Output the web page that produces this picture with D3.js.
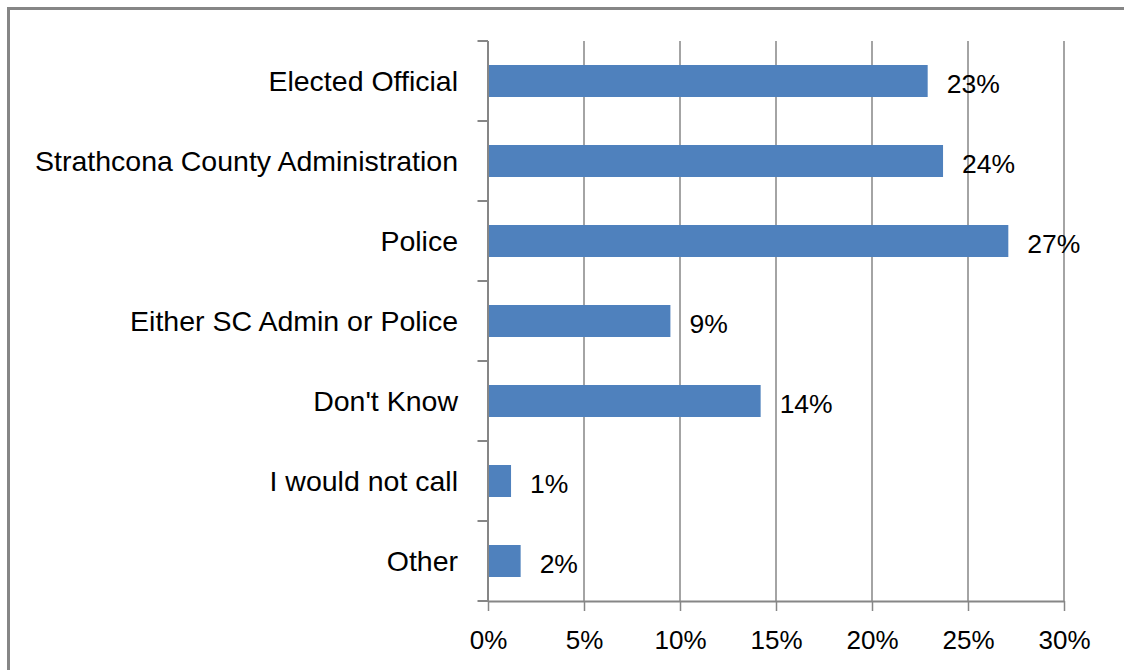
<!DOCTYPE html>
<html>
<head>
<meta charset="utf-8">
<script src="https://cdn.jsdelivr.net/npm/d3@7"></script>
<style>
  html, body { margin: 0; padding: 0; background: #fff; }
  svg { display: block; }
</style>
</head>
<body>
<svg id="chart" width="1124" height="670"></svg>
<script>
const categories = ["Elected Official", "Strathcona County Administration", "Police", "Either SC Admin or Police", "Don't Know", "I would not call", "Other"];
const values = [0.229, 0.237, 0.271, 0.095, 0.142, 0.012, 0.017];
const valueLabels = ["23%", "24%", "27%", "9%", "14%", "1%", "2%"];
const xTicks = [0, 0.05, 0.10, 0.15, 0.20, 0.25, 0.30];

const svg = d3.select("#chart");
const W = 1124, H = 670;
const margin = {left: 488, right: 60, top: 41, bottom: 69};
const gray = "#868686";
const barColor = "#4F81BD";
const font = "'Liberation Sans', Arial, sans-serif";

// outer frame
svg.append("rect")
  .attr("x", 8.5).attr("y", 8.5)
  .attr("width", W + 20).attr("height", H + 20)
  .attr("fill", "none").attr("stroke", gray).attr("stroke-width", 3);

const x = d3.scaleLinear().domain([0, 0.30]).range([margin.left, W - margin.right]);
const y = d3.scaleBand().domain(categories).range([margin.top, H - margin.bottom])
  .paddingInner(0.6).paddingOuter(0.3);

// vertical gridlines
svg.append("g").selectAll("line").data(xTicks.slice(1)).join("line")
  .attr("x1", d => x(d)).attr("x2", d => x(d))
  .attr("y1", margin.top).attr("y2", H - margin.bottom)
  .attr("stroke", gray).attr("stroke-width", 1.5);

// bars
svg.append("g").selectAll("rect").data(values).join("rect")
  .attr("x", x(0))
  .attr("y", (d, i) => y(categories[i]))
  .attr("width", d => x(d) - x(0))
  .attr("height", y.bandwidth())
  .attr("fill", barColor);

// x axis
const xAxis = svg.append("g")
  .attr("transform", `translate(0,${H - margin.bottom})`)
  .call(d3.axisBottom(x).tickValues(xTicks).tickFormat(d3.format(".0%")).tickSize(10).tickSizeOuter(0));
xAxis.select(".domain").attr("stroke", gray).attr("stroke-width", 2);
xAxis.selectAll(".tick line").attr("stroke", gray).attr("stroke-width", 1.5);
xAxis.selectAll(".tick text")
  .attr("font-family", font).attr("font-size", 26).attr("fill", "#000")
  .attr("y", 30).attr("dy", "0.71em");

// y axis (ticks at band boundaries)
const yAxisG = svg.append("g");
yAxisG.append("line")
  .attr("x1", x(0)).attr("x2", x(0))
  .attr("y1", margin.top).attr("y2", H - margin.bottom)
  .attr("stroke", gray).attr("stroke-width", 2);
const boundaries = d3.range(categories.length + 1).map(i => margin.top + i * y.step());
yAxisG.selectAll("line.tk").data(boundaries).join("line").attr("class", "tk")
  .attr("x1", x(0) - 10.5).attr("x2", x(0))
  .attr("y1", d => d).attr("y2", d => d)
  .attr("stroke", gray).attr("stroke-width", 2);

// category labels
svg.append("g").selectAll("text").data(categories).join("text")
  .attr("x", x(0) - 30)
  .attr("y", d => y(d) + y.bandwidth() / 2)
  .attr("dy", "0.36em")
  .attr("text-anchor", "end")
  .attr("font-family", font).attr("font-size", 28.5).attr("fill", "#000")
  .text(d => d);

// value labels
svg.append("g").selectAll("text").data(values).join("text")
  .attr("x", d => x(d) + 19)
  .attr("y", (d, i) => y(categories[i]) + y.bandwidth() / 2 + 2)
  .attr("dy", "0.36em")
  .attr("font-family", font).attr("font-size", 26.5).attr("fill", "#000")
  .text((d, i) => valueLabels[i]);
</script>
</body>
</html>
